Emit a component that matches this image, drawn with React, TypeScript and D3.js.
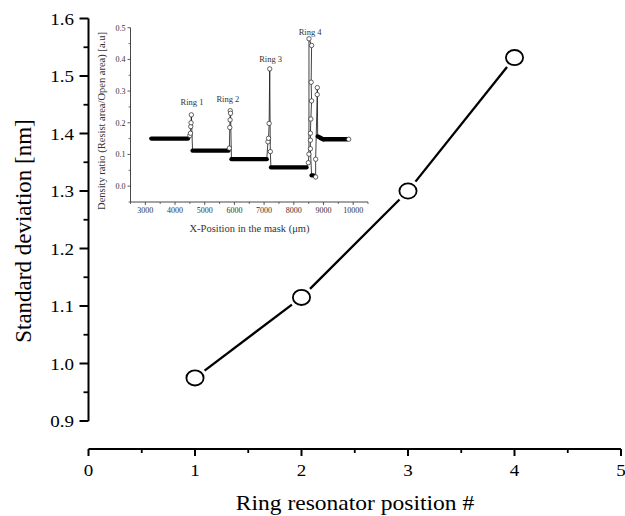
import React from "react";
import * as d3 from "d3";

// ---- Main chart data ----
const ringPos = [1, 2, 3, 4];
const stdDev = [0.975, 1.115, 1.3, 1.532];
const mainXTicks = [0, 1, 2, 3, 4, 5];
const mainXMinor = [0.5, 1.5, 2.5, 3.5, 4.5];
const mainYTicks = [0.9, 1.0, 1.1, 1.2, 1.3, 1.4, 1.5, 1.6];
const mainYMinor = [0.95, 1.05, 1.15, 1.25, 1.35, 1.45, 1.55];

// ---- Inset data (path order) ----
const insetX = [
  3200, 4440,
  4500, 4520, 4530, 4540, 4550,
  4590, 5800,
  5830, 5845, 5855, 5860, 5870,
  5900, 7090,
  7130, 7150, 7170, 7190, 7210,
  7230, 8430,
  8490, 8510, 8512, 8600, 8585, 8600, 8575, 8560, 8560, 8560, 8600, 8660, 8737, 8737, 8790, 8792,
  8805, 8900, 8990, 9800, 9850,
];
const insetY = [
  0.15, 0.15,
  0.16, 0.167, 0.188, 0.2, 0.225,
  0.112, 0.112,
  0.12, 0.185, 0.209, 0.238, 0.23,
  0.085, 0.085,
  0.14, 0.151, 0.198, 0.37, 0.109,
  0.059, 0.059,
  0.074, 0.101, 0.465, 0.444, 0.328, 0.269, 0.212, 0.167, 0.145, 0.118, 0.034, 0.034, 0.029, 0.085, 0.289, 0.311,
  0.157, 0.152, 0.148, 0.148, 0.148,
];
const insetFilled = [
  1, 1,
  0, 0, 0, 0, 0,
  1, 1,
  0, 0, 0, 0, 0,
  1, 1,
  0, 0, 0, 0, 0,
  1, 1,
  0, 0, 0, 0, 0, 0, 0, 0, 0, 0, 1, 1, 0, 0, 0, 0,
  1, 1, 1, 1, 0,
];
const insetXTicks = [3000, 4000, 5000, 6000, 7000, 8000, 9000, 10000];
const insetXMinor = [2500, 3500, 4500, 5500, 6500, 7500, 8500, 9500, 10500];
const insetYTicks = [0.0, 0.1, 0.2, 0.3, 0.4, 0.5];
const insetYMinor = [-0.05, 0.05, 0.15, 0.25, 0.35, 0.45];
const ringLabels = ["Ring 1", "Ring 2", "Ring 3", "Ring 4"];
const ringLabelX = [4570, 5780, 7220, 8550];
const ringLabelY = [0.255, 0.267, 0.393, 0.478];

const FONT = "'Liberation Serif', 'Times New Roman', Times, serif";

export default function App() {
  const x = d3.scaleLinear().domain([0, 5]).range([88.5, 621]);
  const y = d3.scaleLinear().domain([0.9, 1.6]).range([421, 18.5]);

  const xi = d3.scaleLinear().domain([2500, 10500]).range([130.5, 368]);
  const yi = d3.scaleLinear().domain([-0.05, 0.5]).range([202, 27.7]);

  const mainPts = ringPos.map((p, i) => [x(p), y(stdDev[i])]);
  const trim = 12;
  const mainSegs = mainPts.slice(1).map((b, i) => {
    const a = mainPts[i];
    const dx = b[0] - a[0];
    const dy = b[1] - a[1];
    const L = Math.hypot(dx, dy);
    const ux = dx / L, uy = dy / L;
    return [a[0] + ux * trim, a[1] + uy * trim, b[0] - ux * trim, b[1] - uy * trim];
  });

  const insetPts = insetX.map((v, i) => [xi(v), yi(insetY[i])] as [number, number]);
  const thinLine = d3.line()(insetPts) || "";
  const thick: number[][] = [];
  for (let i = 0; i < insetPts.length - 1; i++) {
    if (insetFilled[i] && insetFilled[i + 1]) {
      thick.push([insetPts[i][0], insetPts[i][1], insetPts[i + 1][0], insetPts[i + 1][1]]);
    }
  }

  const ic = "#333";
  const sx = 1.12;

  return (
    <svg
      width={625}
      height={516}
      style={{ position: "absolute", left: 0, top: 0, background: "#fff" }}
      fontFamily={FONT}
    >
      <rect x={0} y={0} width={625} height={516} fill="#fff" />

      {/* ===== Inset ===== */}
      <g>
        <line x1={xi(2500)} x2={xi(10500)} y1={yi(-0.05)} y2={yi(-0.05)} stroke={ic} strokeWidth={0.9} />
        <line x1={xi(2500)} x2={xi(2500)} y1={yi(-0.05)} y2={yi(0.5)} stroke={ic} strokeWidth={0.9} />
        {insetXTicks.map((t) => (
          <g key={"ixt" + t}>
            <line x1={xi(t)} x2={xi(t)} y1={yi(-0.05)} y2={yi(-0.05) + 3} stroke={ic} strokeWidth={0.8} />
            <text x={xi(t)} y={213} fontSize={8} textAnchor="middle" fill={ic}>{t}</text>
          </g>
        ))}
        {insetXMinor.map((t) => (
          <line key={"ixm" + t} x1={xi(t)} x2={xi(t)} y1={yi(-0.05)} y2={yi(-0.05) + 2} stroke={ic} strokeWidth={0.7} />
        ))}
        {insetYTicks.map((t) => (
          <g key={"iyt" + t}>
            <line x1={xi(2500) - 3} x2={xi(2500)} y1={yi(t)} y2={yi(t)} stroke={ic} strokeWidth={0.8} />
            <text x={xi(2500) - 5} y={yi(t) + 3} fontSize={8} textAnchor="end" fill={ic}>{t.toFixed(1)}</text>
          </g>
        ))}
        {insetYMinor.map((t) => (
          <line key={"iym" + t} x1={xi(2500) - 2} x2={xi(2500)} y1={yi(t)} y2={yi(t)} stroke={ic} strokeWidth={0.7} />
        ))}
        <text x={249.5} y={232} fontSize={10.5} textAnchor="middle" fill={ic}>X-Position in the mask (μm)</text>
        <text
          transform={`translate(105,121) rotate(-90)`}
          fontSize={10.5}
          textAnchor="middle"
          fill={ic}
        >
          Density ratio (Resist area/Open area) [a.u]
        </text>

        <path d={thinLine} fill="none" stroke="#111" strokeWidth={0.8} />
        {thick.map((s, i) => (
          <line key={"th" + i} x1={s[0]} y1={s[1]} x2={s[2]} y2={s[3]} stroke="#000" strokeWidth={4.3} strokeLinecap="round" />
        ))}
        {insetPts.map((p, i) =>
          insetFilled[i] ? null : (
            <circle key={"oc" + i} cx={p[0]} cy={p[1]} r={2.2} fill="#fff" stroke="#222" strokeWidth={0.7} />
          )
        )}
        {ringLabels.map((l, i) => (
          <text key={l} x={xi(ringLabelX[i])} y={yi(ringLabelY[i])} fontSize={8.5} textAnchor="middle" fill={ic}>{l}</text>
        ))}
      </g>

      {/* ===== Main axes ===== */}
      <line x1={x(0)} x2={x(0)} y1={y(0.9)} y2={y(1.6)} stroke="#000" strokeWidth={2} />
      {mainYTicks.map((t) => (
        <g key={"myt" + t}>
          <line x1={x(0) - 9} x2={x(0)} y1={y(t)} y2={y(t)} stroke="#000" strokeWidth={2} />
          <text transform={`translate(74,${y(t) + 6}) scale(${sx},1)`} fontSize={17} textAnchor="end" fill="#000">{t.toFixed(1)}</text>
        </g>
      ))}
      {mainYMinor.map((t) => (
        <line key={"mym" + t} x1={x(0) - 5} x2={x(0)} y1={y(t)} y2={y(t)} stroke="#000" strokeWidth={1.8} />
      ))}

      <line x1={x(0)} x2={x(5)} y1={449} y2={449} stroke="#000" strokeWidth={2} />
      {mainXTicks.map((t) => (
        <g key={"mxt" + t}>
          <line x1={x(t)} x2={x(t)} y1={449} y2={456} stroke="#000" strokeWidth={2} />
          <text transform={`translate(${x(t)},476) scale(${sx},1)`} fontSize={17} textAnchor="middle" fill="#000">{t}</text>
        </g>
      ))}
      {mainXMinor.map((t) => (
        <line key={"mxm" + t} x1={x(t)} x2={x(t)} y1={449} y2={453} stroke="#000" strokeWidth={1.8} />
      ))}

      <text transform={`translate(355,510) scale(${sx},1)`} fontSize={21} textAnchor="middle" fill="#000">Ring resonator position #</text>
      <text transform={`translate(31,231) rotate(-90)`} fontSize={23} textAnchor="middle" fill="#000">Standard deviation [nm]</text>

      {/* ===== Main series ===== */}
      {mainSegs.map((s, i) => (
        <line key={"ms" + i} x1={s[0]} y1={s[1]} x2={s[2]} y2={s[3]} stroke="#000" strokeWidth={2.3} />
      ))}
      {mainPts.map((p, i) => (
        <ellipse key={"mp" + i} cx={p[0]} cy={p[1]} rx={8.6} ry={7.6} fill="#fff" stroke="#000" strokeWidth={1.8} />
      ))}
    </svg>
  );
}
